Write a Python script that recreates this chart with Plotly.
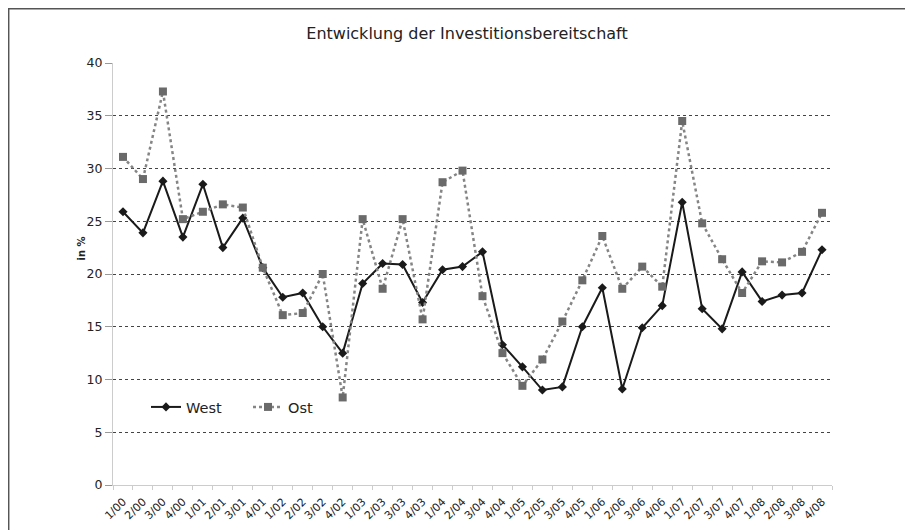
import plotly.graph_objects as go

quarters = [
    "1/00", "2/00", "3/00", "4/00", "1/01", "2/01", "3/01", "4/01",
    "1/02", "2/02", "3/02", "4/02", "1/03", "2/03", "3/03", "4/03",
    "1/04", "2/04", "3/04", "4/04", "1/05", "2/05", "3/05", "4/05",
    "1/06", "2/06", "3/06", "4/06", "1/07", "2/07", "3/07", "4/07",
    "1/08", "2/08", "3/08", "4/08",
]

west = [
    25.9, 23.9, 28.8, 23.5, 28.5, 22.5, 25.3, 20.6,
    17.8, 18.2, 15.0, 12.5, 19.1, 21.0, 20.9, 17.3,
    20.4, 20.7, 22.1, 13.3, 11.2, 9.0, 9.3, 15.0,
    18.7, 9.1, 14.9, 17.0, 26.8, 16.7, 14.8, 20.2,
    17.4, 18.0, 18.2, 22.3,
]

ost = [
    31.1, 29.0, 37.3, 25.2, 25.9, 26.6, 26.3, 20.6,
    16.1, 16.3, 20.0, 8.3, 25.2, 18.6, 25.2, 15.7,
    28.7, 29.8, 17.9, 12.5, 9.4, 11.9, 15.5, 19.4,
    23.6, 18.6, 20.7, 18.8, 34.5, 24.8, 21.4, 18.2,
    21.2, 21.1, 22.1, 25.8,
]

y_ticks = [0, 5, 10, 15, 20, 25, 30, 35, 40]

# the page body adds an 8px offset, so the figure covers page x/y from 8 on
OFF = 8
W, H = 913 - OFF, 530 - OFF
ML, MR, MT, MB = 113 - OFF, 81, 63 - OFF, 45
pw, ph = W - ML - MR, H - MT - MB


def px(x):
    # page x -> paper x
    return (x - OFF - ML) / pw


def py(y):
    # page y -> paper y
    return (H - MB - (y - OFF)) / ph


fig = go.Figure()

fig.add_trace(
    go.Scatter(
        x=quarters,
        y=west,
        name="West",
        mode="lines+markers",
        line=dict(color="#1a1a1a", width=2),
        marker=dict(symbol="diamond", size=7, color="#1a1a1a"),
    )
)

fig.add_trace(
    go.Scatter(
        x=quarters,
        y=ost,
        name="Ost",
        mode="lines+markers",
        line=dict(color="#858585", width=2.5, dash="dot"),
        marker=dict(symbol="square", size=8, color="#6a6a6a"),
    )
)

# outer frame
fig.add_shape(type="rect", xref="paper", yref="paper",
              x0=px(8.7), x1=px(925), y0=py(8.7), y1=py(540),
              line=dict(color="#555555", width=1.5), fillcolor="rgba(0,0,0,0)", layer="below")

# y axis title, placed a bit above the middle like in the original
fig.add_annotation(text="<b>in %</b>", xref="paper", yref="paper",
                   x=px(73), y=py(249), showarrow=False, textangle=-90,
                   font=dict(size=10, color="#222222"))

fig.update_layout(
    width=W,
    height=H,
    margin=dict(l=ML, r=MR, t=MT, b=MB),
    paper_bgcolor="white",
    plot_bgcolor="white",
    font=dict(family="DejaVu Sans", color="#222222", size=11),
    title=dict(text="Entwicklung der Investitionsbereitschaft", xref="container",
               x=(467 - OFF) / W, xanchor="center",
               y=1 - (33 - OFF) / H, yanchor="middle", font=dict(size=16, color="#222222")),
    showlegend=True,
    legend=dict(orientation="h", x=px(146), y=py(407), xanchor="left", yanchor="middle",
                bgcolor="rgba(0,0,0,0)", font=dict(size=14.5), itemwidth=30,
                entrywidth=57, entrywidthmode="pixels"),
    xaxis=dict(
        type="category",
        range=[-0.5, len(quarters) - 0.5],
        tickangle=-45,
        showgrid=False,
        showline=True,
        linecolor="#cccccc",
        ticks="outside",
        tickson="boundaries",
        tickcolor="#cccccc",
        ticklen=4,
        ticklabelstandoff=5,
        tickfont=dict(size=11),
        automargin=False,
    ),
    yaxis=dict(
        range=[0, 40],
        tickvals=y_ticks,
        showgrid=True,
        gridcolor="#444444",
        griddash="dot",
        gridwidth=1,
        showline=True,
        linecolor="#cccccc",
        zeroline=False,
        ticks="outside",
        ticklen=7,
        tickcolor="#999999",
        tickfont=dict(size=12.5),
        automargin=False,
    ),
)

fig.write_html("out.html")
